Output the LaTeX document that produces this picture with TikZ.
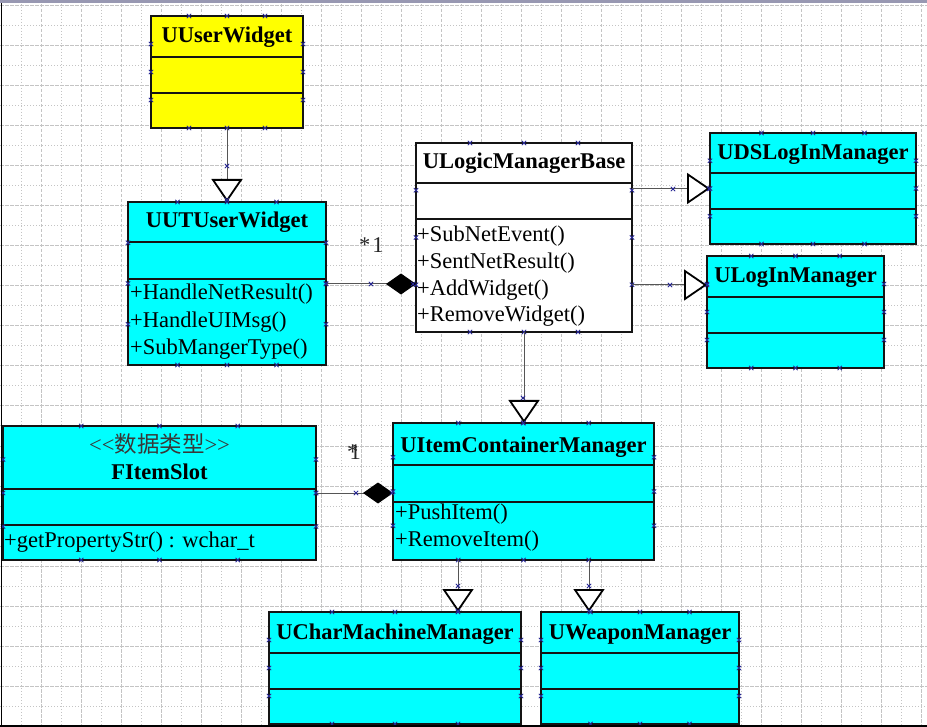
\documentclass[tikz,border=0pt]{standalone}
\usepackage{fontspec}
\setmainfont{Liberation Serif}
\newfontfamily\cjk{Noto Sans CJK SC}
\usetikzlibrary{arrows.meta,calc}
\definecolor{ucyan}{RGB}{0,255,255}
\definecolor{uyellow}{RGB}{255,255,0}
\definecolor{gridc}{RGB}{196,196,196}
\definecolor{hdlc}{RGB}{40,40,150}
\definecolor{bandc}{RGB}{152,152,178}
\definecolor{linec}{RGB}{85,85,85}
\definecolor{boxc}{RGB}{20,20,20}
\newcommand\umlTitleFont{\fontsize{22.5}{27}\selectfont\bfseries}
\newcommand\umlBodyFont{\fontsize{22.5}{27}\selectfont}
\newcommand\uhandle[1]{\draw[hs] #1 +(-2.2,-2.2) -- +(2.2,2.2) +(-2.2,2.2) -- +(2.2,-2.2);}
\newcommand\umlclass[8]{%
  \pgfmathsetmacro\ucW{#4-#2}\pgfmathsetmacro\ucH{#5-#3}%
  \node[ubox,fill=#8,minimum width=\ucW pt,minimum height=\ucH pt,anchor=north west] (#1) at (#2,#3) {};
  \draw[udiv] (#2,#6) -- (#4,#6) (#2,#7) -- (#4,#7);
  \foreach \t in {0.25,0.5,0.75}{%
    \uhandle{($(#1.north west)!\t!(#1.north east)$)}
    \uhandle{($(#1.south west)!\t!(#1.south east)$)}
    \uhandle{($(#1.north west)!\t!(#1.south west)$)}
    \uhandle{($(#1.north east)!\t!(#1.south east)$)}
  }%
}
\begin{document}
\begin{tikzpicture}[x=1pt,y=-1pt,
  ubox/.style={draw=boxc,line width=2pt,inner sep=0pt,outer sep=0pt,rectangle},
  udiv/.style={draw=boxc,line width=2pt},
  hs/.style={draw=hdlc,line width=0.8pt},
  gridA/.style={draw=gridc,line width=1pt,dash pattern=on 1pt off 2pt},
  gridB/.style={draw=gridc,line width=1pt,dash pattern=on 3.5pt off 1.5pt},
  ttl/.style={font=\umlTitleFont,anchor=base,inner sep=0pt},
  mth/.style={font=\umlBodyFont,anchor=base west,inner sep=0pt},
  mult/.style={font=\umlBodyFont,anchor=base west,inner sep=0pt,text=black!85},
  gen/.style={draw=linec,line width=1pt,-{Triangle[color=black,fill=white,length=23pt,width=31pt,line width=1.8pt]}},
  comp/.style={draw=linec,line width=1pt,-{Diamond[color=black,fill=black,length=30pt,width=21pt]}}]
\useasboundingbox (0,0) rectangle (927,727);
\fill[white] (0,0) rectangle (927,727);
% grid
\foreach \x in {21.7,61.7,...,927} \draw[gridA] (\x,4) -- (\x,727);
\foreach \x in {41.7,81.7,...,927} \draw[gridB] (\x,4) -- (\x,727);
\foreach \y in {26,66,...,727} \draw[gridA] (0,\y) -- (927,\y);
\foreach \y in {6,46,...,727} \draw[gridB] (0,\y) -- (927,\y);
% classes
\umlclass{uuw}{151}{16}{303}{128}{57}{93}{uyellow}
\umlclass{uut}{128}{202}{326}{365}{242}{279}{ucyan}
\umlclass{ulm}{416}{143}{632}{332}{183}{219}{white}
\umlclass{uds}{710}{133}{916}{244}{173}{209}{ucyan}
\umlclass{uli}{707}{256}{884}{368}{297}{333}{ucyan}
\umlclass{uic}{393}{423}{654}{560}{465}{502}{ucyan}
\umlclass{fis}{3}{426}{316}{560}{489}{525}{ucyan}
\umlclass{ucm}{269}{612}{521}{724}{653}{689}{ucyan}
\umlclass{uwm}{541}{612}{739}{724}{653}{689}{ucyan}
% titles
\node[ttl] (tuuw) at (uuw.north |- 0,43) {UUserWidget};
\node[ttl] (tuut) at (uut.north |- 0,228) {UUTUserWidget};
\node[ttl] (tulm) at (ulm.north |- 0,169) {ULogicManagerBase};
\node[ttl] (tuds) at (uds.north |- 0,160) {UDSLogInManager};
\node[ttl] (tuli) at (uli.north |- 0,283) {ULogInManager};
\node[ttl] (tuic) at (uic.north |- 0,452) {UItemContainerManager};
\node[ttl,font=\umlBodyFont,text=black!78] (sfis) at (fis.north |- 0,453) {<\kern0pt<{\cjk 数据类型}>\kern0pt>};
\node[ttl] (tfis) at (fis.north |- 0,479) {FItemSlot};
\node[ttl] (tucm) at (ucm.north |- 0,639) {UCharMachineManager};
\node[ttl] (tuwm) at (uwm.north |- 0,639) {UWeaponManager};
% methods
\node[mth] (m1) at (130,300) {+HandleNetResult()};
\node[mth] (m2) at (130,327.5) {+HandleUIMsg()};
\node[mth] (m3) at (130,355) {+SubMangerType()};
\node[mth] (m4) at (417,242) {+SubNetEvent()};
\node[mth] (m5) at (417,268.7) {+SentNetResult()};
\node[mth] (m6) at (417,295.3) {+AddWidget()};
\node[mth] (m7) at (417,322) {+RemoveWidget()};
\node[mth] (m8) at (395,519) {+PushItem()};
\node[mth] (m9) at (395,546) {+RemoveItem()};
\node[mth] (m10) at (4,547) {+getPropertyStr() : wchar\_t};
% connectors
\draw[gen] (uuw.south) -- (uut.north);
\draw[gen] (ulm.east |- uds.west) -- (uds.west);
\draw[gen] (ulm.east |- 0,285) -- (uli.west |- 0,285);
\draw[gen] (ulm.south) -- (ulm.south |- uic.north);
\draw[gen] (uic.south -| 458,0) -- (ucm.north -| 458,0);
\draw[gen] (uic.south -| 589,0) -- (uwm.north -| 589,0);
\draw[comp] (uut.east |- 0,284) -- (ulm.west |- 0,284);
\draw[comp] (fis.east |- 0,493) -- (uic.west |- 0,493);
% multiplicities
\node[mult] (k1) at (359,252.5) {*\kern2pt 1};
\node[mult] (k2) at (349.3,460) {1};
\node[mult] (k3) at (347,460) {*};
% connector handles
\uhandle{(227,166)}\uhandle{(227,200)}
\uhandle{(673,189)}\uhandle{(709,189)}
\uhandle{(670,285)}\uhandle{(707,285)}
\uhandle{(523,398)}\uhandle{(523,423)}
\uhandle{(458,586)}\uhandle{(458,611)}
\uhandle{(589,586)}\uhandle{(589,611)}
\uhandle{(326,284)}\uhandle{(371,284)}\uhandle{(413,284)}
\uhandle{(316,493)}\uhandle{(356,493)}\uhandle{(392,493)}
% window border
\fill[bandc] (0,0) rectangle (927,3.5);
\fill[black] (1,3.5) rectangle (2.4,727);
\fill[black] (0,725.4) rectangle (927,727);
\end{tikzpicture}
\end{document}
